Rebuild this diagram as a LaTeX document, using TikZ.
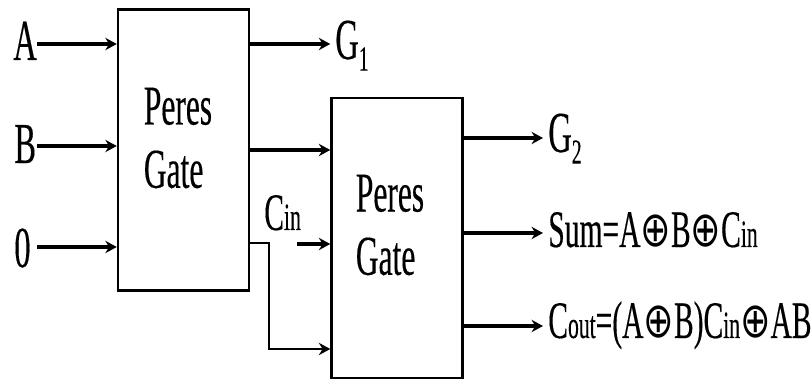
\documentclass[tikz,border=0pt]{standalone}
\usepackage{fontspec}
\usetikzlibrary{arrows.meta}
\setmainfont[FakeStretch=0.56,FakeBold=0.25]{Liberation Serif}
\newfontfamily\xorfont[FakeStretch=0.74]{DejaVu Sans}
\newcommand{\xorsym}{{\xorfont\fontsize{28}{28}\selectfont ⊕}}
\newcommand{\smalltxt}[1]{{\fontsize{22}{22}\selectfont #1}}
\newcommand{\subtxt}[1]{\raisebox{-0.2em}{\fontsize{20}{20}\selectfont #1}}
\begin{document}
\begin{tikzpicture}[>={Stealth[length=6.5pt,width=7pt]},x=1cm,y=1cm,
	gatebox/.style={draw,line width=1.4pt,rectangle,minimum width=2.62cm,minimum height=5.62cm,inner sep=0pt},
	wire/.style={->,line width=1.8pt},
	thinwire/.style={->,line width=1.6pt},
	biglabel/.style={anchor=base west,inner sep=0pt,font=\fontsize{33}{33}\selectfont},
	outlabel/.style={anchor=base west,inner sep=0pt,font=\fontsize{30}{30}\selectfont},
	gatetext/.style={align=left,inner sep=0pt,font=\fontsize{32}{36}\selectfont}]
	\useasboundingbox (0,0) rectangle (16.24,7.62);
	% gates
	\node[gatebox] (gateL) at (3.67,4.62) {};
	\node[gatebox,minimum height=5.6cm] (gateR) at (7.94,2.86) {};
	\node[gatetext] (txtL) at (3.56,4.86) {Peres\\Gate};
	\node[gatetext] (txtR) at (7.80,3.12) {Peres\\Gate};
	% labels
	\node[biglabel] (lblA) at (0.26,6.42) {A};
	\node[biglabel] (lblB) at (0.28,4.36) {B};
	\node[biglabel] (lblZ) at (0.28,2.28) {0};
	\node[biglabel] (lblGa) at (6.70,6.44) {G\subtxt{1}};
	\node[biglabel] (lblGb) at (10.96,4.58) {G\subtxt{2}};
	\node[outlabel] (lblSum) at (10.96,2.68) {Sum=A\xorsym B\xorsym C\smalltxt{in}};
	\node[outlabel] (lblCout) at (10.96,0.86) {C\smalltxt{out}=(A\xorsym B)C\smalltxt{in}\xorsym AB};
	\node[outlabel] (lblCin) at (5.28,3.02) {C\smalltxt{in}};
	% wire ends
	\coordinate (pinA) at (0.74,6.74);
	\coordinate (pinB) at (0.74,4.70);
	\coordinate (pinZ) at (0.74,2.68);
	\coordinate (pinC) at (5.94,2.74);
	\coordinate (pinK) at (5.38,2.76);
	% wires
	\draw[wire] (pinA) -- (pinA -| gateL.west);
	\draw[wire] (pinB) -- (pinB -| gateL.west);
	\draw[wire] (pinZ) -- (pinZ -| gateL.west);
	\draw[wire] (gateL.east |- pinA) -- (pinA -| gateR.west);
	\draw[wire] (gateL.east |- 0,4.62) -- (gateR.west |- 0,4.62);
	\draw[wire] (pinC) -- (pinC -| gateR.west);
	\draw[thinwire] (gateL.east |- pinK) -- (pinK) -- (5.38,0.64) -- (gateR.west |- 0,0.64);
	\draw[wire] (gateR.east |- 0,4.86) -- (10.86,4.86);
	\draw[wire] (gateR.east |- 0,2.96) -- (10.86,2.96);
	\draw[wire] (gateR.east |- 0,1.10) -- (10.86,1.10);
\end{tikzpicture}
\end{document}
